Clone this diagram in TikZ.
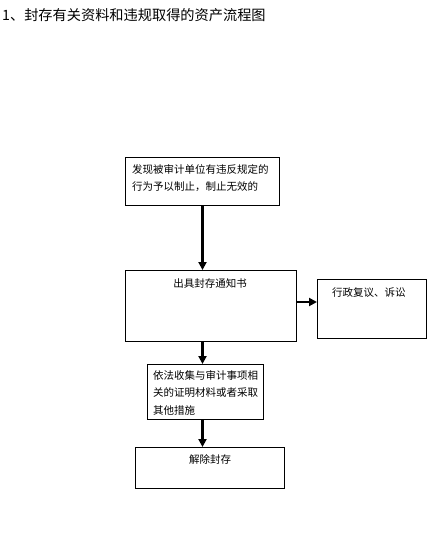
\documentclass[tikz,border=0pt]{standalone}
\usepackage{fontspec}
\setmainfont{Noto Sans CJK SC}
\usetikzlibrary{arrows.meta,positioning,calc}

\begin{document}
\begin{tikzpicture}[x=1pt, y=-1pt,
    box/.style={draw, line width=1pt, anchor=north west, inner sep=0pt},
    txt/.style={inner sep=0pt, font=\fontsize{10.5}{17.5}\selectfont, align=left},
    arr/.style={line width=2.2pt, -{Triangle[length=8pt, width=8pt]}}]
  \useasboundingbox (0,0) rectangle (427,558);

  % Title
  \node [anchor=north west, inner sep=0pt, font=\fontsize{14.2}{16}\selectfont] (title) at (2,8)
    {1、封存有关资料和违规取得的资产流程图};

  % Boxes
  \node [box, minimum width=154, minimum height=48] (b1) at (125,157) {};
  \node [box, minimum width=171, minimum height=71] (b2) at (125,270) {};
  \node [box, minimum width=109, minimum height=59] (b3) at (317,279) {};
  \node [box, minimum width=116, minimum height=55] (b4) at (147,364) {};
  \node [box, minimum width=149, minimum height=41] (b5) at (135,447) {};

  % Texts in the boxes
  \node [txt, anchor=north west] (t1) at (132,164)
    {发现被审计单位有违反规定的\\行为予以制止，制止无效的};
  \node [txt, anchor=north] (t2) at (210,278) {出具封存通知书};
  \node [txt, anchor=north west] (t3) at (332,287) {行政复议、诉讼};
  \node [txt, anchor=north west] (t4) at (153,370)
    {依法收集与审计事项相\\关的证明材料或者采取\\其他措施};
  \node [txt, anchor=north] (t5) at (210,454) {解除封存};

  % Arrows
  \draw [arr] (b1.south) -- (b1.south |- b2.north);
  \draw [arr] (b2.south -| b1.south) -- (b4.north -| b1.south);
  \draw [arr] (b4.south -| b1.south) -- (b5.north -| b1.south);
  \coordinate (m) at ($(b2.east)+(0,-4)$);
  \draw [arr] (m) -- (m -| b3.west);

\end{tikzpicture}
\end{document}
